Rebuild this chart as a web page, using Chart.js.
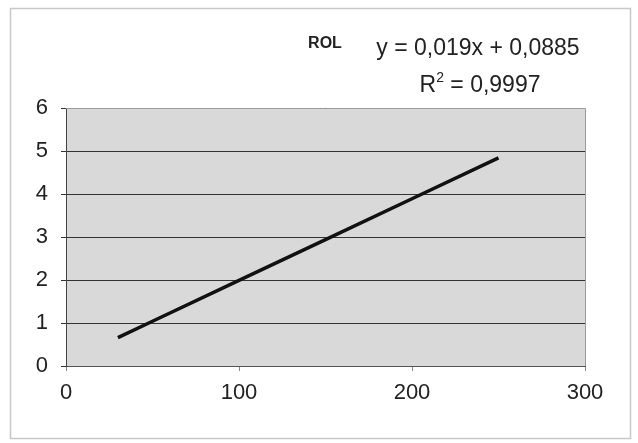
<!DOCTYPE html>
<html>
<head>
<meta charset="utf-8">
<script src="https://cdn.jsdelivr.net/npm/chart.js@4"></script>
<style>
  body { margin: 0; background: #fff; }
  #wrap { width: 638px; height: 443px; }
</style>
</head>
<body>
<div id="wrap"><canvas id="myChart" width="638" height="443"></canvas></div>
<script>
// valores
var xValues = [30, 50, 100, 150, 200, 250];
var yValues = [0.66, 1.04, 1.99, 2.94, 3.89, 4.84];
var tituloTexto = "ROL";
var ecuacion = "y = 0,019x + 0,0885";
var r2Texto = "0,9997";

var fuente = "'Liberation Sans', Arial, sans-serif";

// fondo gris, marco y textos de la linea de tendencia
const marcoPlugin = {
  id: 'marco',
  beforeDraw(chart) {
    const ctx = chart.ctx;
    const a = chart.chartArea;
    ctx.save();
    ctx.fillStyle = '#fff';
    ctx.fillRect(0, 0, chart.width, chart.height);
    ctx.strokeStyle = '#c8c8c8';
    ctx.lineWidth = 1.5;
    ctx.strokeRect(10.5, 8.5, 620, 430);
    ctx.fillStyle = '#d9d9d9';
    ctx.fillRect(a.left, a.top, a.right - a.left, a.bottom - a.top);
    ctx.restore();
  },
  afterDraw(chart) {
    const ctx = chart.ctx;
    const a = chart.chartArea;
    ctx.save();
    ctx.strokeStyle = '#9a9a9a';
    ctx.lineWidth = 1;
    ctx.beginPath();
    ctx.moveTo(a.left, a.top + 0.5);
    ctx.lineTo(a.right + 0.5, a.top + 0.5);
    ctx.lineTo(a.right + 0.5, a.bottom);
    ctx.stroke();
    ctx.fillStyle = '#222';
    ctx.textBaseline = 'middle';
    ctx.textAlign = 'center';
    ctx.font = 'bold 16px ' + fuente;
    ctx.fillText(tituloTexto, 325, 44);
    ctx.font = '23px ' + fuente;
    ctx.fillText(ecuacion, 478, 49);
    // R² con superindice
    ctx.textAlign = 'left';
    var base = 'R';
    var resto = ' = ' + r2Texto;
    ctx.font = '23px ' + fuente;
    var w1 = ctx.measureText(base).width;
    var w3 = ctx.measureText(resto).width;
    ctx.font = '14px ' + fuente;
    var w2 = ctx.measureText('2').width;
    var x0 = 480 - (w1 + w2 + w3) / 2;
    ctx.font = '23px ' + fuente;
    ctx.fillText(base, x0, 86);
    ctx.font = '14px ' + fuente;
    ctx.fillText('2', x0 + w1, 78);
    ctx.font = '23px ' + fuente;
    ctx.fillText(resto, x0 + w1 + w2, 86);
    ctx.restore();
  }
};

new Chart("myChart", {
  type: "scatter",
  data: {
    datasets: [{
      data: xValues.map((x, i) => ({ x: x, y: yValues[i] })),
      showLine: true,
      borderColor: '#111',
      borderWidth: 3.5,
      pointRadius: 0,
      tension: 0
    }]
  },
  options: {
    responsive: false,
    animation: false,
    layout: { padding: { top: 108, right: 53, left: 0, bottom: 0 } },
    plugins: {
      legend: { display: false },
      title: { display: false },
      tooltip: { enabled: false }
    },
    scales: {
      x: {
        min: 0, max: 300,
        afterFit: (s) => { s.height = 77; },
        ticks: { stepSize: 100, color: '#222', font: { family: fuente, size: 22 }, padding: 9 },
        grid: { drawOnChartArea: false, drawTicks: true, tickLength: 5, color: '#888' },
        border: { color: '#555', width: 1 }
      },
      y: {
        min: 0, max: 6,
        afterFit: (s) => { s.width = 66; },
        ticks: { stepSize: 1, color: '#222', font: { family: fuente, size: 22 }, padding: 13 },
        grid: { color: '#333', lineWidth: 1, tickLength: 5, drawTicks: true },
        border: { color: '#444', width: 1 }
      }
    }
  },
  plugins: [marcoPlugin]
});
</script>
</body>
</html>
